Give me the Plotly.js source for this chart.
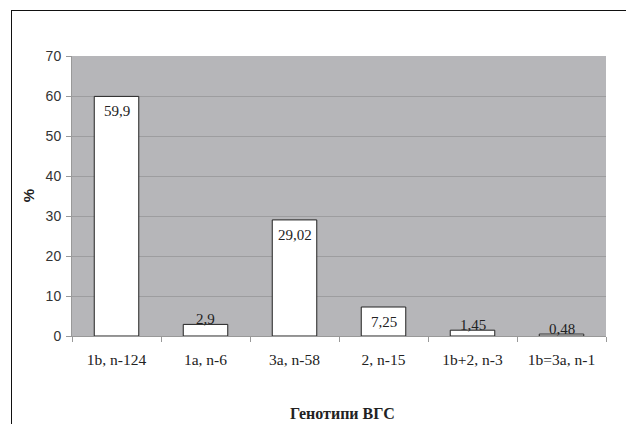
<!DOCTYPE html>
<html>
<head>
<meta charset="utf-8">
<script src="https://cdn.plot.ly/plotly-3.0.1.min.js"></script>
<style>
html,body{margin:0;padding:0;background:#fff;}
#frame{position:absolute;left:11px;top:10px;width:700px;height:500px;border-top:1.5px solid #111;border-left:1.5px solid #111;pointer-events:none;z-index:5;}
#chart{position:absolute;left:0;top:0;width:626px;height:424px;}
</style>
</head>
<body>
<div id="chart"></div>
<div id="frame"></div>
<script>
const categories = ['1b, n-124', '1a, n-6', '3a, n-58', '2, n-15', '1b+2, n-3', '1b=3a, n-1'];
const values = [59.9, 2.9, 29.02, 7.25, 1.45, 0.48];
const valueLabels = ['59,9', '2,9', '29,02', '7,25', '1,45', '0,48'];
const yTicks = [0, 10, 20, 30, 40, 50, 60, 70];
const xTitle = 'Генотипи ВГС';
const yTitle = '%';

const SERIF = "'Liberation Serif', 'Times New Roman', Times, serif";
const SANS = "'Liberation Sans', Arial, sans-serif";

const trace = {
  type: 'bar',
  x: categories,
  y: values,
  marker: {color: '#ffffff', line: {color: '#222', width: 1}},
  width: 0.5,
  hoverinfo: 'none'
};

const valueAnnotations = categories.map((c, i) => {
  const inside = values[i] > 5;
  return {
    text: valueLabels[i], x: c, y: values[i], xref: 'x', yref: 'y',
    xanchor: 'center', yanchor: inside ? 'top' : 'bottom',
    yshift: inside ? -5 : -5, showarrow: false,
    font: {family: SERIF, size: 15, color: '#222'}
  };
});

const layout = {
  width: 626, height: 424,
  margin: {l: 72, r: 20, t: 56, b: 88},
  paper_bgcolor: '#ffffff',
  plot_bgcolor: '#b6b6b9',
  showlegend: false,
  font: {family: SANS, color: '#333'},
  xaxis: {
    type: 'category',
    tickson: 'boundaries',
    ticks: 'outside', ticklen: 5, tickcolor: '#999', tickwidth: 1,
    showline: true, linecolor: '#999', linewidth: 1,
    showgrid: false,
    tickfont: {family: SERIF, size: 15.5, color: '#222'},
    ticklabelstandoff: 9,
    automargin: false
  },
  yaxis: {
    range: [0, 70],
    tickvals: yTicks,
    ticks: 'outside', ticklen: 5, tickcolor: '#999', tickwidth: 1,
    showline: true, linecolor: '#999', linewidth: 1,
    showgrid: true, gridcolor: '#9d9d9f', gridwidth: 1,
    zeroline: false,
    tickfont: {family: SANS, size: 14, color: '#333'},
    ticklabelstandoff: 2,
    automargin: false
  },
  annotations: valueAnnotations.concat([
    {text: '<b>' + xTitle + '</b>', xref: 'paper', yref: 'paper', x: 0.506, y: -0.275,
     xanchor: 'center', yanchor: 'middle', showarrow: false,
     font: {family: SERIF, size: 16, color: '#222'}},
    {text: '<b>' + yTitle + '</b>', xref: 'paper', yref: 'paper', x: -0.082, y: 0.5,
     xanchor: 'center', yanchor: 'middle', textangle: -90, showarrow: false,
     font: {family: SANS, size: 15, color: '#222'}}
  ])
};

Plotly.newPlot('chart', [trace], layout, {displayModeBar: false, staticPlot: true});
</script>
</body>
</html>
